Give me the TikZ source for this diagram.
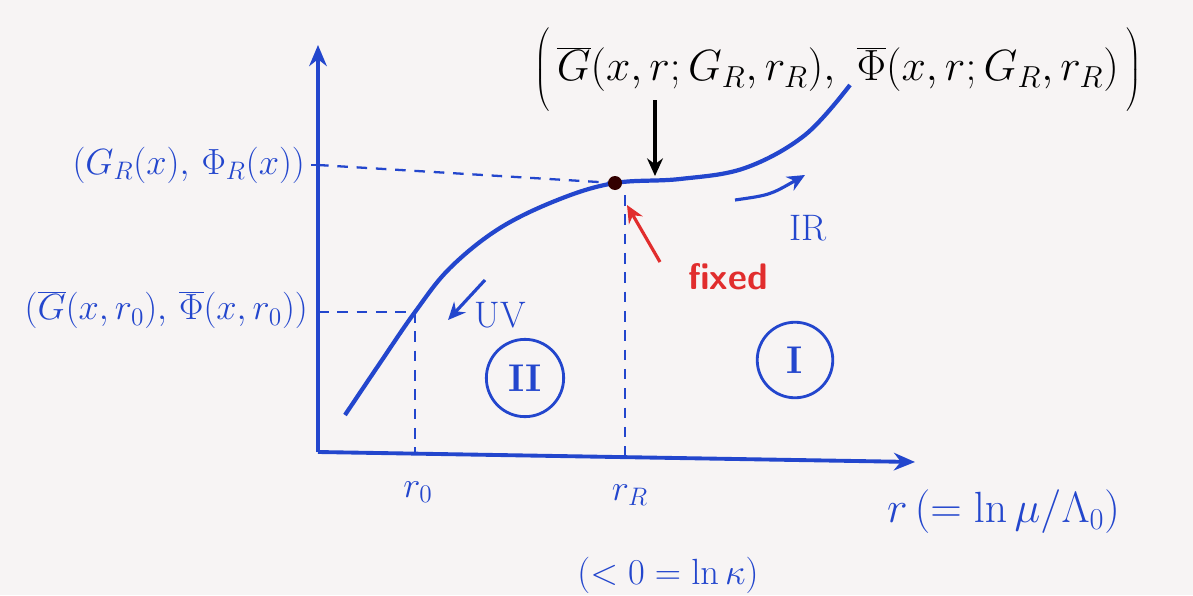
\documentclass[tikz,border=0pt]{standalone}
\usetikzlibrary{arrows.meta,calc}
\definecolor{pen}{RGB}{35,70,205}
\definecolor{redpen}{RGB}{225,45,45}
\definecolor{paper}{RGB}{247,244,244}
\begin{document}
\begin{tikzpicture}[x=0.02cm,y=-0.02cm,
  axis/.style={pen,line width=2.2pt,-{Stealth[length=12pt,width=10pt]}},
  curve/.style={pen,line width=2.4pt},
  guide/.style={pen,line width=1.3pt,dash pattern=on 6pt off 5pt},
  lbl/.style={inner sep=1pt,font=\fontsize{21}{25}\selectfont},
  bluelbl/.style={lbl,text=pen},
  ptr/.style={line width=1.8pt,-{Stealth[length=10pt,width=9pt]}},
  region/.style={draw=pen,text=pen,line width=1.6pt,circle,inner sep=0pt,font=\fontsize{22}{24}\selectfont\bfseries}]
\fill[paper] (0,0) rectangle (1193,595);
% axes
\coordinate (O) at (318,452);
\coordinate (ytip) at (318,45);
\coordinate (xtip) at (915,462);
\draw[axis] (O) -- (ytip);
\draw[axis] (O) -- (xtip);
% key points
\coordinate (FP) at (615,183);
\coordinate (P0) at (415,312);
\coordinate (yR) at (318,165);
\coordinate (y0) at (318,312);
\coordinate (xr0) at (415,455);
\coordinate (xrR) at (625,457);
% ticks
\draw[pen,line width=1.3pt] ($(yR)+(-7,0)$) -- ($(yR)+(7,0)$);
% guides
\draw[guide] (yR) -- (FP);
\draw[guide] (y0) -- (P0);
\draw[guide] (P0) -- (xr0);
\draw[guide] (625,195) -- (xrR);
% curve
\draw[curve] plot[smooth,tension=0.6] coordinates {(345,415) (380,363) (415,312) (450,268) (500,228) (560,199) (615,183) (680,179) (745,168) (805,135) (850,85)};
\fill[black!80!red] (FP) circle (7);
% labels on axes
\node[lbl,text=pen,anchor=east] (GR) at (307,165) {$(G_R(x),\,\Phi_R(x))$};
\node[lbl,text=pen,anchor=east] (G0) at (310,310) {$(\overline{G}(x,r_0),\,\overline{\Phi}(x,r_0))$};
\node[bluelbl] (r0) at (418,492) {$r_0$};
\node[bluelbl] (rR) at (630,495) {$r_R$};
\node[bluelbl,anchor=west,font=\fontsize{25}{28}\selectfont] (rlab) at (885,512) {$r\,(=\ln\mu/\Lambda_0)$};
\node[bluelbl] (kap) at (668,575) {$(<0=\ln\kappa)$};
% top label
\node[lbl,anchor=west,font=\fontsize{27}{30}\selectfont] (top) at (532,68) {$\left(\vrule height 32pt depth 14pt width 0pt\,\overline{G}(x,r;G_R,r_R),\ \overline{\Phi}(x,r;G_R,r_R)\,\right)$};
\coordinate (topa) at (655,100);
\coordinate (topb) at (655,176);
\draw[ptr,black] (topa) -- (topb);
% fixed
\node[lbl,text=redpen] (fixed) at (728,277) {\sffamily\bfseries fixed};
\coordinate (fa) at (660,262);
\coordinate (fb) at (627,205);
\draw[ptr,redpen] (fa) -- (fb);
% IR
\node[bluelbl] (IR) at (808,228) {IR};
\coordinate (ira) at (735,200);
\coordinate (irb) at (805,175);
\draw[ptr,pen] (ira) .. controls (770,195) .. (irb);
% UV
\node[bluelbl] (UV) at (500,315) {UV};
\coordinate (uva) at (485,280);
\coordinate (uvb) at (448,320);
\draw[ptr,pen] (uva) -- (uvb);
% regions
\node[region,minimum size=44pt] (II) at (525,378) {II};
\node[region,minimum size=43pt] (I) at (795,360) {I};
\end{tikzpicture}
\end{document}
